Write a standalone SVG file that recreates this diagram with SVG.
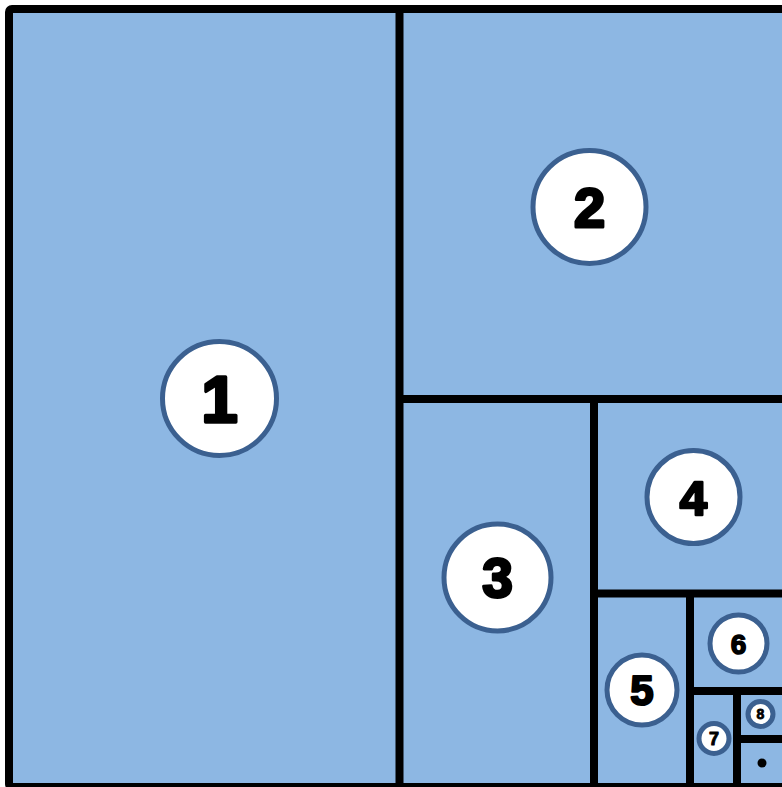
<svg xmlns="http://www.w3.org/2000/svg" width="782" height="787" viewBox="0 0 782 787">
<style>
.bg{fill:#8db7e3;}
.ln{stroke:#000;stroke-width:8;fill:none;}
.ring{fill:#fff;stroke:#3b6090;stroke-width:5;}
.num{font-family:"Liberation Sans",Arial,sans-serif;font-weight:bold;fill:#000;stroke:#000;stroke-linejoin:round;text-anchor:middle;}
</style>
<rect x="0" y="0" width="782" height="787" fill="#fff"/>
<rect class="bg" x="9" y="9" width="781" height="778" rx="3"/>
<g id="connectors">
<rect class="ln" x="9" y="9" width="781" height="778" rx="3"/>
<path class="ln" d="M399.5 9V787M399.5 399H790M594 399V787M594 593.5H790M690 593.5V787M690 691H790M737 691V787M737 739H790"/>
</g>
<g id="node1"><circle class="ring" cx="219.5" cy="398.5" r="57"/><text class="num" x="219.5" y="422" font-size="65" stroke-width="3.4">1</text></g>
<g id="node2"><circle class="ring" cx="589.5" cy="207" r="56.5"/><text class="num" x="589.5" y="227" font-size="56" stroke-width="3">2</text></g>
<g id="node3"><circle class="ring" cx="497.5" cy="577.5" r="53.5"/><text class="num" x="497.5" y="597" font-size="55" stroke-width="2.9">3</text></g>
<g id="node4"><circle class="ring" cx="693.5" cy="497" r="46.5"/><text class="num" x="693.5" y="514.5" font-size="49" stroke-width="2.6">4</text></g>
<g id="node5"><circle class="ring" cx="642" cy="690" r="35"/><text class="num" x="642" y="705" font-size="42" stroke-width="2.2">5</text></g>
<g id="node6"><circle class="ring" cx="738.5" cy="643.5" r="28.5"/><text class="num" x="738.5" y="653.5" font-size="28" stroke-width="1.5">6</text></g>
<g id="node7"><circle class="ring" cx="714" cy="738.5" r="15"/><text class="num" x="714" y="745" font-size="18" stroke-width="1">7</text></g>
<g id="node8"><circle class="ring" cx="760.5" cy="714" r="12.5"/><text class="num" x="760.5" y="719" font-size="14" stroke-width="0.8">8</text></g>
<g id="node9"><circle cx="762" cy="763" r="4.5" fill="#000"/></g>
</svg>
